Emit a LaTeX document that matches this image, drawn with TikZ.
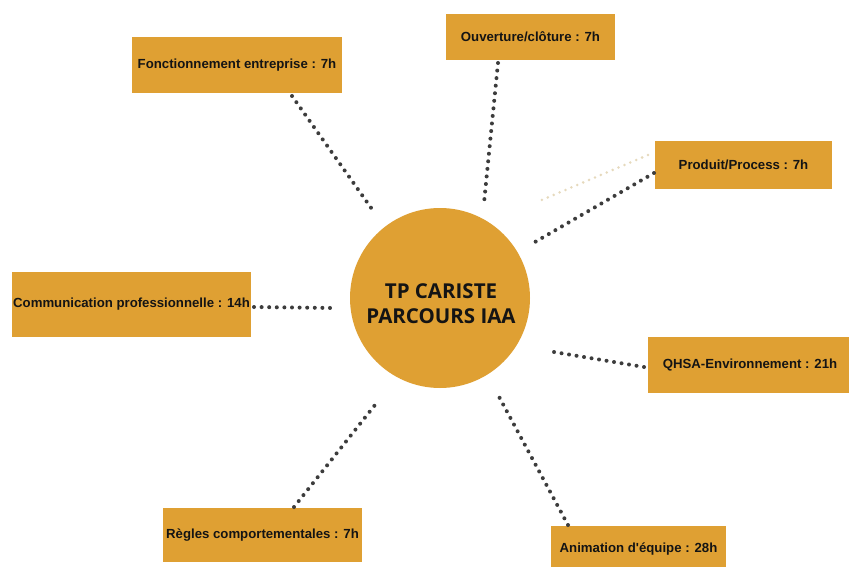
\documentclass[tikz,border=0pt]{standalone}
\usepackage{fontspec}
\setmainfont{Liberation Sans}
\newfontfamily\centerfont{Open Sans}
\definecolor{gold}{HTML}{DFA033}
\definecolor{dotgray}{HTML}{3C3C3C}
\definecolor{dotlight}{HTML}{E6D9BC}
\definecolor{txt}{HTML}{141414}
\begin{document}
\begin{tikzpicture}[x=1pt,y=-1pt,
  box/.style={rectangle, fill=gold, draw=none, inner sep=0pt,
    font=\fontsize{13.2}{15}\selectfont\bfseries, text=txt},
  hub/.style={circle, fill=gold, draw=none, minimum size=180pt, inner sep=0pt},
  hubtext/.style={inner sep=0pt, font=\centerfont\fontsize{20.5}{25}\selectfont\bfseries, text=txt, align=center},
  dots/.style={draw=dotgray, line width=4pt, line cap=round, dash pattern=on 0pt off 7.6pt},
  faintdots/.style={draw=dotlight, line width=2.8pt, line cap=round, dash pattern=on 0pt off 6.4pt}]
\useasboundingbox (0,0) rectangle (849,567);
\clip (0,0) rectangle (849,567);
\fill[white] (0,0) rectangle (849,567);

\node[hub] (hub) at (440,298) {};
\node[hubtext] (title) at (441,304) {TP CARISTE\\PARCOURS IAA};

\node[box, minimum width=210pt, minimum height=56pt] (fonc) at (237,65) {Fonctionnement entreprise : 7h};
\node[box, minimum width=169pt, minimum height=46pt] (ouv) at (530.5,37) {Ouverture/clôture : 7h};
\node[box, minimum width=177pt, minimum height=48pt] (prod) at (743.5,165) {Produit/Process : 7h};
\node[box, minimum width=239pt, minimum height=65pt] (comm) at (131.5,304.5) {Communication professionnelle : 14h};
\node[box, minimum width=204pt, minimum height=56pt] (qhsa) at (750,365) {QHSA-Environnement : 21h};
\node[box, minimum width=199pt, minimum height=54pt] (regl) at (262.5,535) {Règles comportementales : 7h};
\node[box, minimum width=175pt, minimum height=46pt] (anim) at (638.5,549) {Animation d\textquotesingle équipe : 28h};

% connector end points
\coordinate (fa) at (292,96);   \coordinate (fb) at (374,212);
\coordinate (oa) at (498,63);   \coordinate (ob) at (484,203);
\coordinate (pa) at (654,173);  \coordinate (pb) at (535,242);
\coordinate (pla) at (648,155); \coordinate (plb) at (537,202);
\coordinate (ca) at (254,307);  \coordinate (cb) at (333,308);
\coordinate (qa) at (644,367);  \coordinate (qb) at (548,351);
\coordinate (ra) at (294,507);  \coordinate (rb) at (375,405);
\coordinate (aa) at (568,525);  \coordinate (ab) at (497,393);

\draw[faintdots] (pla) -- (plb);
\draw[dots] (fa) -- (fb);
\draw[dots] (oa) -- (ob);
\draw[dots] (pa) -- (pb);
\draw[dots] (ca) -- (cb);
\draw[dots] (qa) -- (qb);
\draw[dots] (ra) -- (rb);
\draw[dots] (aa) -- (ab);
\end{tikzpicture}
\end{document}
